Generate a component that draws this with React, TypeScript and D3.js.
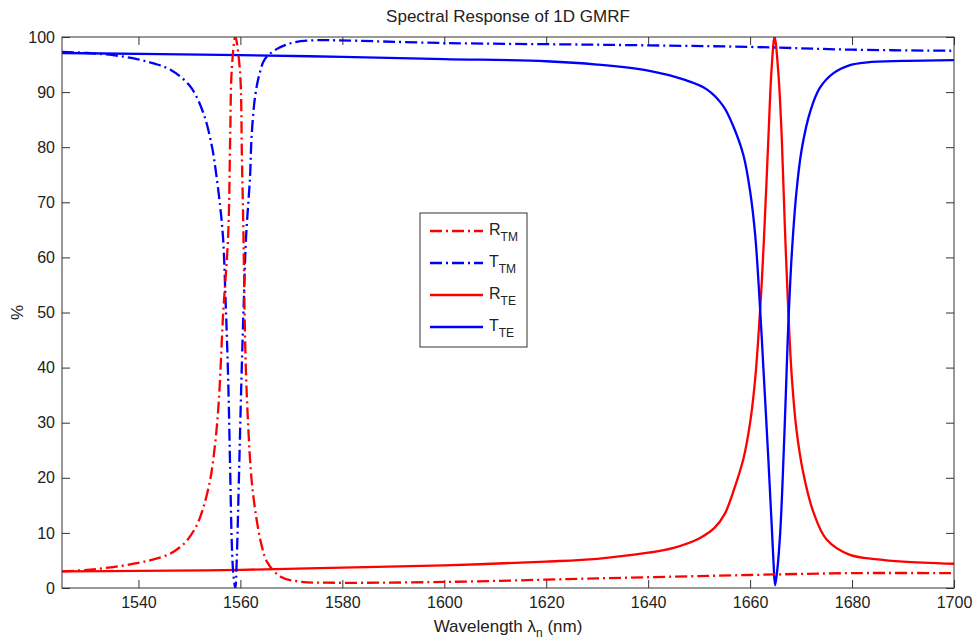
import React, { useEffect, useRef } from 'react';
import * as d3 from 'd3';

// R_TM (red dash-dot)
const rtmWl = [1525, 1530, 1535, 1539.7, 1543, 1546.2, 1548, 1549.5, 1551.4, 1552.7, 1554.0, 1554.7, 1555.4, 1555.9, 1556.6, 1557.6, 1558.0, 1558.3, 1559.0, 1559.9, 1560.3, 1560.6, 1561.0, 1561.5, 1562.2, 1563.2, 1564.2, 1565.2, 1567.8, 1571.7, 1576.9, 1600, 1630, 1660, 1680, 1700];
const rtmVal = [3.0, 3.3, 3.8, 4.5, 5.2, 6.2, 7.3, 8.6, 11.3, 14.5, 19.3, 23.5, 29.5, 36, 49.5, 64, 82, 94, 100, 94, 78, 64, 42, 30, 19.6, 12.3, 7.6, 4.8, 2.1, 1.15, 0.97, 1.1, 1.75, 2.36, 2.7, 2.7];

// T_TM (blue dash-dot)
const ttmWl = [1525, 1530, 1535, 1539.7, 1543, 1546.2, 1550.1, 1552.7, 1554.4, 1555.2, 1556.0, 1556.6, 1557.1, 1557.6, 1558.0, 1558.3, 1558.6, 1559.0, 1559.3, 1559.7, 1560.2, 1560.7, 1561.1, 1561.9, 1562.2, 1562.9, 1563.8, 1564.8, 1567.1, 1570.4, 1574.3, 1578.9, 1600, 1630, 1660, 1680, 1700];
const ttmVal = [97.3, 97.1, 96.7, 96.0, 95.2, 94.1, 91.1, 86.3, 80.2, 75.5, 69.5, 63.5, 52, 38, 21, 8.5, 2.7, 0, 5.7, 19.6, 37.7, 53, 63.5, 74.8, 82, 89.3, 93.5, 96, 97.8, 99.0, 99.4, 99.4, 98.9, 98.6, 98.2, 97.7, 97.5];

// R_TE (red solid)
const rteWl = [1525, 1540, 1560, 1580, 1600, 1620, 1630, 1640, 1645, 1650, 1653, 1655, 1656.7, 1658.7, 1660.0, 1661.0, 1662.0, 1662.7, 1663.6, 1664.2, 1664.8, 1665.5, 1666.2, 1666.8, 1667.5, 1668.2, 1669.1, 1670.4, 1672.4, 1675.0, 1679.6, 1685, 1690, 1700];
const rteVal = [3.0, 3.1, 3.3, 3.7, 4.1, 4.8, 5.3, 6.4, 7.3, 9.0, 10.9, 13.4, 17.5, 23.5, 30, 38, 51, 63, 82, 94, 100, 94, 82, 66, 50, 38, 28.7, 21, 13.8, 8.8, 6.0, 5.2, 4.8, 4.4];

// T_TE (blue solid)
const tteWl = [1525, 1560, 1580, 1600, 1620, 1630, 1640, 1646.9, 1651.5, 1654.7, 1656.7, 1658.7, 1660.0, 1661.0, 1662.0, 1662.6, 1663.6, 1664.2, 1664.6, 1664.9, 1665.3, 1665.9, 1666.4, 1667.0, 1667.5, 1668.2, 1669.1, 1670.1, 1671.8, 1673.7, 1676.3, 1679.6, 1683, 1690, 1700];
const tteVal = [97.1, 96.7, 96.4, 96.0, 95.6, 95.0, 93.9, 92.3, 90.5, 87.5, 83.8, 78.5, 72, 64, 50, 40, 23, 12, 4.5, 0.5, 3, 10, 20, 35, 48, 61, 72, 79.5, 86.5, 90.8, 93.4, 94.9, 95.4, 95.65, 95.8];

const xTicks = [1540, 1560, 1580, 1600, 1620, 1640, 1660, 1680, 1700];
const yTicks = [0, 10, 20, 30, 40, 50, 60, 70, 80, 90, 100];

const FONT = '"Liberation Sans", Arial, Helvetica, sans-serif';
const RED = '#ff0000';
const BLUE = '#0000ff';
const DASHDOT = '12,4,2,4';

const App = () => {
    const chartRef = useRef<HTMLDivElement>(null);

    useEffect(() => {
        document.body.style.margin = '0';
        const root = d3.select(chartRef.current);
        root.selectAll('*').remove();

        const totalW = 973;
        const totalH = 639;
        const margin = { top: 37, right: 19, bottom: 51, left: 62 };
        const width = totalW - margin.left - margin.right;
        const height = totalH - margin.top - margin.bottom;

        const x = d3.scaleLinear().domain([1525, 1700]).range([0, width]);
        const y = d3.scaleLinear().domain([0, 100]).range([height, 0]);

        const svg = root.append('svg')
            .attr('width', totalW)
            .attr('height', totalH)
            .style('display', 'block')
            .style('background', '#fff')
            .style('font-family', FONT);

        const g = svg.append('g')
            .attr('transform', 'translate(' + margin.left + ',' + margin.top + ')');

        g.append('clipPath').attr('id', 'plot-clip')
            .append('rect').attr('width', width).attr('height', height);

        // axes, ticks pointing inward like matlab
        const styleAxis = (sel: any) => {
            sel.select('.domain').remove();
            sel.selectAll('line').attr('stroke', '#333');
            sel.selectAll('text').attr('fill', '#222').style('font-size', '16px').style('font-family', FONT);
        };
        const fmt = d3.format('d');

        g.append('g')
            .attr('transform', 'translate(0,' + height + ')')
            .call(d3.axisBottom(x).tickValues(xTicks).tickFormat(fmt).tickSizeInner(-8).tickSizeOuter(0).tickPadding(9))
            .call(styleAxis);
        g.append('g')
            .call(d3.axisTop(x).tickValues(xTicks).tickSizeInner(-8).tickSizeOuter(0).tickFormat(() => ''))
            .call(styleAxis);
        g.append('g')
            .call(d3.axisLeft(y).tickValues(yTicks).tickFormat(fmt).tickSizeInner(-8).tickSizeOuter(0).tickPadding(7))
            .call(styleAxis);
        g.append('g')
            .attr('transform', 'translate(' + width + ',0)')
            .call(d3.axisRight(y).tickValues(yTicks).tickSizeInner(-8).tickSizeOuter(0).tickFormat(() => ''))
            .call(styleAxis);

        const series = [
            { wl: rteWl, val: rteVal, color: RED, dash: null },
            { wl: tteWl, val: tteVal, color: BLUE, dash: null },
            { wl: ttmWl, val: ttmVal, color: BLUE, dash: DASHDOT },
            { wl: rtmWl, val: rtmVal, color: RED, dash: DASHDOT },
        ];

        const line = d3.line<[number, number]>()
            .x(d => x(d[0]))
            .y(d => y(d[1]))
            .curve(d3.curveCatmullRom.alpha(0.5));

        const plot = g.append('g').attr('clip-path', 'url(#plot-clip)');
        series.forEach(s => {
            const pts: [number, number][] = s.wl.map((w, i) => [w, s.val[i]]);
            plot.append('path')
                .attr('d', line(pts))
                .attr('fill', 'none')
                .attr('stroke', s.color)
                .attr('stroke-width', 2.3)
                .attr('stroke-dasharray', s.dash)
                .attr('stroke-linejoin', 'round');
        });

        // box
        g.append('rect')
            .attr('width', width)
            .attr('height', height)
            .attr('fill', 'none')
            .attr('stroke', '#333')
            .attr('stroke-width', 1);

        // title and labels
        svg.append('text')
            .attr('x', margin.left + width / 2)
            .attr('y', 22)
            .attr('text-anchor', 'middle')
            .attr('fill', '#222')
            .style('font-size', '17px')
            .text('Spectral Response of 1D GMRF');

        const xl = svg.append('text')
            .attr('x', margin.left + width / 2)
            .attr('y', 632)
            .attr('text-anchor', 'middle')
            .attr('fill', '#222')
            .style('font-size', '17px');
        xl.append('tspan').text('Wavelength \u03bb');
        xl.append('tspan').attr('dy', 5).style('font-size', '12px').text('n');
        xl.append('tspan').attr('dy', -5).text(' (nm)');

        svg.append('text')
            .attr('transform', 'translate(23,' + (margin.top + height / 2) + ') rotate(-90)')
            .attr('text-anchor', 'middle')
            .attr('fill', '#222')
            .style('font-size', '17px')
            .text('%');

        // legend
        const legend = svg.append('g').attr('transform', 'translate(420,213)');
        legend.append('rect')
            .attr('width', 107)
            .attr('height', 134)
            .attr('fill', '#fff')
            .attr('stroke', '#333');

        const legendItems = [
            { main: 'R', sub: 'TM', color: RED, dash: DASHDOT },
            { main: 'T', sub: 'TM', color: BLUE, dash: DASHDOT },
            { main: 'R', sub: 'TE', color: RED, dash: null },
            { main: 'T', sub: 'TE', color: BLUE, dash: null },
        ];
        legendItems.forEach((d, i) => {
            const ly = 18 + i * 32;
            legend.append('line')
                .attr('x1', 10).attr('x2', 63)
                .attr('y1', ly).attr('y2', ly)
                .attr('stroke', d.color)
                .attr('stroke-width', 2.3)
                .attr('stroke-dasharray', d.dash);
            const t = legend.append('text')
                .attr('x', 69)
                .attr('y', ly + 4)
                .attr('fill', '#222')
                .style('font-size', '16px');
            t.append('tspan').text(d.main);
            t.append('tspan').attr('dy', 6).style('font-size', '12px').text(d.sub);
        });
    }, []);

    return (
        <div ref={chartRef}></div>
    );
};

export default App;
